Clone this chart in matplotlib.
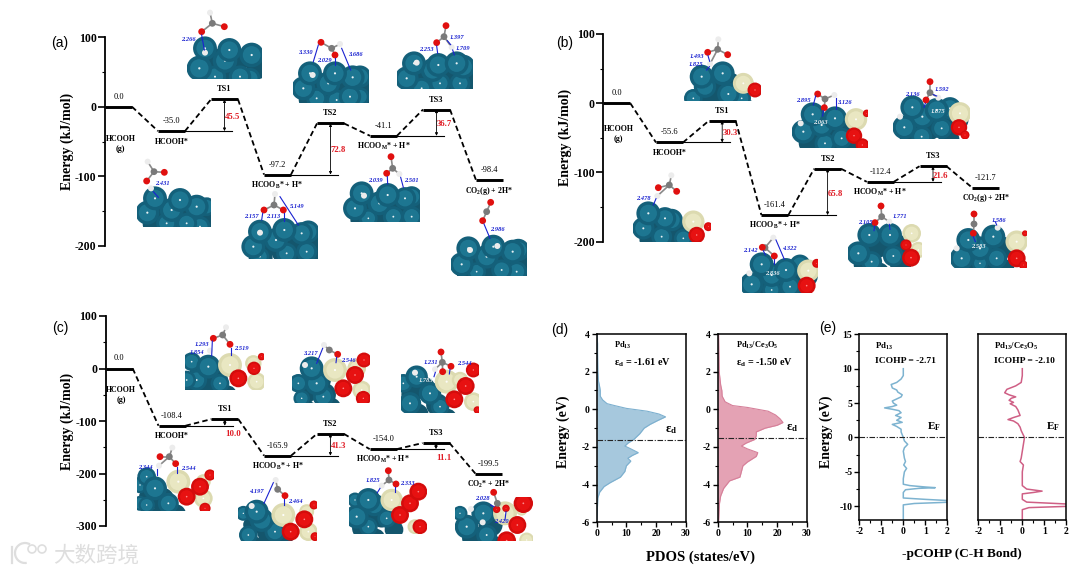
import numpy as np
import matplotlib
matplotlib.use("Agg")
import matplotlib.pyplot as plt
from matplotlib.patches import Circle, Rectangle, Arc

plt.rcParams['font.family'] = ['Liberation Serif', 'DejaVu Sans']
plt.rcParams['mathtext.fontset'] = 'custom'
plt.rcParams['mathtext.rm'] = 'Liberation Serif'
plt.rcParams['mathtext.bf'] = 'Liberation Serif:bold'
plt.rcParams['mathtext.it'] = 'Liberation Serif:italic'
plt.rcParams['axes.unicode_minus'] = False

# energy profiles: drawn level, printed value
levels_a = [0, -35, 10.6, -97.6, -24, -41.8, -4, -105.5]
levels_b = [0, -56.7, -25.5, -161.5, -94.7, -113.5, -91, -122]
levels_c = [0, -109, -96.5, -166, -124.5, -153.6, -142, -200]
values_a = ['0.0', '-35.0', 'TS1', '-97.2', 'TS2', '-41.1', 'TS3', '-98.4']
values_b = ['0.0', '-55.6', 'TS1', '-161.4', 'TS2', '-112.4', 'TS3', '-121.7']
values_c = ['0.0', '-108.4', 'TS1', '-165.9', 'TS2', '-154.0', 'TS3', '-199.5']
barriers_a = ['45.5', '72.8', '36.7']
barriers_b = ['30.3', '65.8', '21.6']
barriers_c = ['10.0', '41.3', '11.1']
barrier_y_a = [-15, -62.5, -25.5]
barrier_y_b = [-43, -130.8, -104.8]
barrier_y_c = [-124.4, -147, -170]
species = [r'HCOOH', r'HCOOH*', '', r'HCOO$_{\mathbf{B}}$* + H*', '',
           r'HCOO$_{\mathbf{M}}$* + H*', '', r'CO$_{\mathbf{2}}$(g) + 2H*']
species_c_last = r'CO$_{\mathbf{2}}$* + 2H*'

# PDOS curves
pdos_e_pd = [4, 3.5, 3, 2, 1.5, 1.2, 1, 0.7, 0.5, 0.3, 0.2, 0.05, -0.1, -0.25, -0.4, -0.6, -0.8, -1, -1.3,
             -1.6, -1.8, -1.95, -2.1, -2.3, -2.45, -2.6, -2.75, -3, -3.3, -3.6, -3.9, -4.1, -4.4, -4.7, -5.4, -6]
pdos_v_pd = [0.1, 0.3, 0.3, 0.4, 0.6, 1, 1.2, 1.2, 2, 3.5, 6, 10, 17, 21, 23.2, 20.5, 18, 16, 14.5,
             12.5, 10.5, 9.5, 11.5, 14, 12, 10.5, 11.5, 10, 9.5, 8, 4.5, 2.5, 1, 0.4, 0.2, 0]
pdos_e_ce = [4, 3, 2, 1.3, 1, 0.7, 0.4, 0.2, 0.1, -0.1, -0.3, -0.5, -0.7, -0.85, -1, -1.2, -1.4, -1.6, -1.8,
             -1.95, -2.1, -2.3, -2.5, -2.8, -3, -3.3, -3.6, -3.8, -4.2, -4.6, -5, -6]
pdos_v_ce = [0.3, 0.4, 0.5, 1, 1.4, 1.5, 2.5, 5, 10, 17, 19.5, 21, 22, 20, 16, 13, 13, 12.5, 9.5,
             8, 10, 13.5, 13, 10, 8.5, 8, 7.5, 4, 2, 1, 0.6, 0.3]

# pCOHP curves
cohp_e_pd = [10, 9, 8.5, 8, 7.7, 7.2, 6.9, 6.6, 6.2, 5.9, 5.6, 5.3, 5, 4.7, 4.5, 4.3, 4.1, 3.9, 3.6, 3.2, 2.9,
             2.5, 2.2, 1.9, 1.6, 1.2, 0.8, 0, -0.5, -1, -1.5, -2, -3, -3.5, -4, -4.5, -5, -6, -6.8, -7, -7.2,
             -7.3, -7.4, -7.6, -8, -8.8, -9, -9.2, -9.4, -9.6, -9.8, -12]
cohp_v_pd = [0, 0, -0.1, -0.3, -0.55, -0.5, -0.3, -0.25, -0.05, -0.1, -0.3, -0.5, -0.45, -0.3, -0.5, -0.85, -0.5,
             -0.2, -0.1, -0.35, -0.1, -0.3, -0.05, -0.5, -0.3, -0.1, -0.1, 0, 0.05, 0.2, 0.05, 0, 0.05, 0.1,
             0.02, 0.15, 0.05, 0, 0, 0.3, 1, 1.45, 0.7, 0.1, 0, 0, 1, 2.2, 2.2, 0.5, 0, 0]
cohp_e_ce = [10, 9, 8, 7.5, 7, 6.5, 6.2, 5.9, 5.7, 5.4, 5.1, 4.9, 4.5, 4, 3.2, 2.9, 2.6, 2.4, 2, 1.5, 1, 0, -1,
             -2, -3, -3.5, -4, -5, -7, -7.5, -7.8, -8, -8.2, -9, -9.4, -9.7, -10, -10.2, -10.5, -12]
cohp_v_ce = [0, 0, -0.05, -0.3, -0.7, -0.8, -0.6, -0.3, -0.5, -0.6, -0.4, -0.55, -0.3, -0.2, -0.1, -0.4, -0.65,
             -0.4, -0.2, -0.1, -0.05, 0.1, 0.05, 0, -0.05, -0.1, 0.05, 0, 0, 0.2, 0.9, 0.5, 0, 0, 0.2, 2.2, 2.2,
             0.3, 0, 0]

# slab snapshots, read in crop pixels of each panel (3x, see offsets in draw_slab)
slabs_a = [
    dict(box=(440, -30, 665, 178), P=[(495, 85, 32), (568, 90, 32), (635, 105, 33), (478, 145, 34), (555, 122, 33), (600, 170, 30), (525, 170, 30), (630, 175, 28)],
         W=[], R=[], mol=[('H', 495, 98), ('O', 485, 35), ('C', 517, 10), ('O', 553, 20), ('H', 510, -22)],
         blue=[(485, 45, 493, 90)], text=[(445, 58, '2.266')]),
    dict(box=(292, 395, 512, 622), P=[(345, 535, 32), (420, 540, 32), (470, 560, 32), (322, 578, 32), (395, 570, 32), (500, 560, 25), (380, 610, 28), (440, 610, 28), (480, 620, 28)],
         W=[], R=[], mol=[('H', 333, 505), ('O', 320, 483), ('C', 342, 455), ('O', 373, 457), ('H', 323, 425)],
         blue=[(340, 515, 355, 532)], text=[(368, 490, '2.431')]),
    dict(box=(758, 20, 988, 250), P=[(810, 160, 32), (885, 160, 32), (938, 172, 32), (960, 170, 30), (790, 205, 32), (865, 190, 32), (930, 230, 30), (830, 235, 28), (890, 240, 28), (960, 230, 25)],
         W=[], R=[], mol=[('H', 818, 165), ('O', 843, 67), ('C', 875, 85), ('H', 900, 72), ('O', 885, 105)],
         blue=[(835, 75, 820, 125), (905, 85, 932, 150), (885, 115, 885, 135)],
         text=[(797, 99, '3.330'), (853, 122, '2.029'), (945, 102, '3.686')]),
    dict(box=(1070, 0, 1300, 208), P=[(1122, 130, 32), (1250, 130, 32), (1270, 140, 32), (1195, 135, 32), (1100, 175, 32), (1178, 150, 32), (1200, 190, 28), (1260, 190, 28), (1145, 205, 28)],
         W=[], R=[], mol=[('H', 1130, 128), ('O', 1218, 17), ('C', 1212, 50), ('O', 1190, 68), ('H', 1235, 82)],
         blue=[(1190, 78, 1193, 100), (1238, 90, 1243, 105), (1222, 62, 1232, 74)],
         text=[(1250, 53, '1.397'), (1160, 88, '2.253'), (1270, 85, '1.709')]),
    dict(box=(603, 490, 835, 718), P=[(660, 635, 32), (733, 630, 32), (785, 640, 30), (805, 635, 30), (640, 680, 32), (708, 660, 32), (740, 700, 28), (800, 695, 28), (660, 710, 25)],
         W=[], R=[], mol=[('H', 660, 638), ('O', 672, 570), ('C', 702, 555), ('H', 705, 522), ('O', 730, 570)],
         blue=[(720, 530, 775, 615), (668, 580, 665, 600), (733, 580, 733, 602)],
         text=[(633, 590, '2.157'), (700, 590, '2.113'), (772, 560, '5.149')]),
    dict(box=(910, 400, 1140, 607), P=[(965, 520, 32), (1043, 525, 32), (1095, 535, 30), (1115, 530, 28), (945, 565, 32), (1018, 550, 32), (1060, 590, 28), (1115, 590, 28), (985, 595, 25)],
         W=[], R=[], mol=[('H', 972, 527), ('O', 1053, 410), ('C', 1058, 445), ('O', 1040, 460), ('H', 1078, 462)],
         blue=[(1042, 470, 1043, 492), (1082, 472, 1090, 502)], text=[(1007, 480, '2.039'), (1115, 480, '2.501')]),
    dict(box=(1232, 540, 1460, 767), P=[(1285, 685, 32), (1360, 680, 32), (1418, 695, 32), (1435, 690, 30), (1265, 733, 32), (1340, 710, 32), (1385, 750, 28), (1430, 755, 28), (1310, 755, 25)],
         W=[], R=[], mol=[('H', 1290, 690), ('H', 1372, 678), ('O', 1352, 547), ('C', 1340, 575), ('O', 1328, 602)],
         blue=[(1332, 612, 1350, 655)], text=[(1372, 628, '2.986')]),
]
slabs_b = [
    dict(box=(402, 30, 633, 243), P=[(455, 170, 32), (518, 160, 32), (465, 200, 30), (535, 222, 30), (430, 235, 25), (575, 235, 25)],
         W=[(580, 190, 28)], R=[(615, 210, 20)], mol=[('H', 505, 58), ('C', 503, 88), ('O', 473, 97), ('O', 533, 104), ('H', 480, 132)],
         blue=[(474, 107, 479, 124), (478, 140, 470, 150)], text=[(440, 110, '1.493'), (437, 135, '1.825')]),
    dict(box=(250, 430, 483, 667), P=[(295, 580, 32), (345, 595, 30), (365, 600, 30), (280, 625, 30), (335, 650, 28), (400, 655, 25)],
         W=[(430, 605, 30)], R=[(440, 645, 22), (475, 620, 12)], mol=[('H', 322, 528), ('O', 325, 503), ('C', 358, 495), ('O', 380, 514), ('H', 364, 466)],
         blue=[(318, 536, 310, 555)], text=[(281, 537, '2.478')]),
    dict(box=(727, 210, 955, 385), P=[(788, 283, 32), (855, 295, 32), (815, 315, 32), (760, 335, 32), (875, 355, 28), (825, 370, 28)],
         W=[(918, 298, 30)], R=[(912, 347, 22), (937, 375, 18), (950, 280, 10)], mol=[('H', 752, 310), ('O', 803, 222), ('C', 825, 237), ('H', 853, 225), ('O', 823, 263)],
         blue=[(797, 228, 790, 255), (858, 235, 858, 268), (820, 272, 818, 288)], text=[(760, 241, '2.895'), (883, 247, '3.126'), (812, 308, '2.063')]),
    dict(box=(1030, 130, 1260, 358), P=[(1087, 262, 32), (1160, 270, 32), (1200, 265, 30), (1117, 290, 32), (1063, 322, 32), (1175, 325, 28), (1115, 350, 28)],
         W=[(1230, 280, 30)], R=[(1227, 322, 22), (1245, 345, 12)], mol=[('H', 1050, 290), ('O', 1140, 185), ('C', 1140, 218), ('O', 1128, 240), ('H', 1165, 233)],
         blue=[(1126, 250, 1122, 262), (1150, 224, 1160, 228)], text=[(1088, 225, '2.136'), (1175, 208, '1.592'), (1163, 275, '1.875')]),
    dict(box=(575, 620, 803, 820), P=[(635, 733, 32), (708, 750, 32), (750, 735, 28), (665, 765, 32), (605, 793, 32), (720, 800, 28), (665, 810, 25)],
         W=[(775, 752, 30)], R=[(770, 797, 24), (800, 730, 12)], mol=[('H', 598, 760), ('H', 670, 653), ('C', 645, 683), ('O', 673, 708), ('O', 637, 682)],
         blue=[(678, 660, 703, 718), (640, 692, 646, 705), (672, 718, 672, 733)], text=[(600, 691, '2.142'), (718, 686, '4.322'), (668, 760, '2.836')]),
    dict(box=(895, 550, 1115, 740), P=[(958, 645, 32), (1020, 645, 32), (925, 700, 32), (1030, 708, 28), (965, 725, 28)],
         W=[(1085, 640, 25), (1105, 690, 22)], R=[(1083, 713, 24), (1068, 675, 15)], mol=[('O', 993, 558), ('C', 995, 590), ('O', 975, 608), ('H', 1018, 605)],
         blue=[(974, 618, 972, 632), (1018, 613, 1020, 628)], text=[(945, 606, '2.105'), (1050, 590, '1.771')]),
    dict(box=(1203, 570, 1432, 745), P=[(1255, 660, 32), (1330, 650, 32), (1290, 685, 32), (1235, 715, 32), (1340, 715, 28), (1290, 730, 22)],
         W=[(1400, 665, 30)], R=[(1400, 715, 24), (1420, 735, 12), (1425, 640, 8)], mol=[('H', 1220, 685), ('O', 1272, 582), ('C', 1272, 612), ('O', 1270, 640), ('H', 1343, 623)],
         blue=[(1270, 650, 1276, 665), (1340, 615, 1336, 605)], text=[(1347, 603, '1.586'), (1285, 680, '2.583')]),
]
slabs_c = [
    dict(box=(436, 70, 672, 270), P=[(505, 200, 32), (455, 185, 25), (440, 240, 25), (470, 240, 28), (540, 250, 25)],
         W=[(570, 195, 32), (640, 190, 22), (650, 245, 25)], R=[(595, 235, 24), (642, 205, 18), (665, 170, 10)], mol=[('H', 558, 82), ('C', 548, 105), ('O', 520, 115), ('O', 570, 133), ('H', 510, 152)],
         blue=[(517, 123, 515, 168), (572, 143, 572, 165)], text=[(487, 132, '1.293'), (472, 157, '1.854'), (605, 147, '2.519')]),
    dict(box=(757, 110, 990, 308), P=[(815, 205, 32), (775, 250, 25), (830, 250, 32), (850, 290, 28), (785, 295, 22)],
         W=[(885, 210, 32), (950, 205, 25), (965, 270, 25)], R=[(910, 265, 24), (945, 225, 24), (972, 180, 20), (970, 295, 20)], mol=[('H', 795, 195), ('H', 852, 135), ('C', 868, 150), ('O', 893, 163)],
         blue=[(848, 145, 830, 190), (890, 172, 888, 188)], text=[(810, 161, '3.217'), (925, 180, '2.546')]),
    dict(box=(1083, 105, 1318, 340), P=[(1130, 230, 30), (1090, 250, 25), (1170, 280, 30), (1110, 310, 30), (1200, 320, 25)],
         W=[(1220, 245, 32), (1260, 240, 22), (1300, 305, 25)], R=[(1277, 258, 24), (1243, 298, 24), (1300, 210, 20), (1312, 330, 10)], mol=[('H', 1125, 218), ('O', 1203, 156), ('C', 1207, 187), ('O', 1233, 199), ('H', 1185, 208), ('O', 1208, 215)],
         blue=[(1230, 208, 1228, 222), (1186, 217, 1182, 230)], text=[(1172, 186, '1.231'), (1272, 190, '2.544'), (1158, 240, '1.785')]),
    dict(box=(290, 430, 523, 632), P=[(345, 565, 32), (320, 530, 25), (300, 555, 22), (385, 610, 28), (320, 615, 22), (300, 610, 20)],
         W=[(415, 545, 32), (490, 545, 20), (490, 595, 25)], R=[(440, 590, 24), (480, 560, 24), (510, 525, 15), (495, 625, 15)], mol=[('H', 397, 443), ('C', 388, 470), ('O', 360, 470), ('O', 407, 491), ('H', 357, 497)],
         blue=[(352, 507, 352, 525), (410, 501, 410, 520)], text=[(315, 503, '2.344'), (445, 505, '2.544')]),
    dict(box=(595, 520, 830, 722), P=[(650, 635, 32), (610, 640, 20), (665, 660, 32), (705, 695, 28), (625, 705, 25)],
         W=[(730, 645, 32), (800, 635, 20), (805, 695, 25)], R=[(752, 695, 24), (793, 658, 24), (822, 615, 12), (825, 710, 12)], mol=[('H', 635, 618), ('H', 707, 540), ('C', 713, 568), ('O', 735, 587)],
         blue=[(700, 548, 672, 610), (733, 597, 733, 614)], text=[(650, 575, '4.197'), (767, 604, '2.464')]),
    dict(box=(927, 500, 1160, 702), P=[(985, 600, 32), (945, 600, 20), (1003, 615, 30), (950, 650, 32), (1040, 655, 25), (985, 680, 25)],
         W=[(1055, 600, 30), (1125, 680, 20)], R=[(1080, 645, 24), (1110, 610, 24), (1135, 575, 24), (1140, 680, 20)], mol=[('O', 1045, 512), ('C', 1047, 540), ('O', 1068, 552), ('H', 1025, 557)],
         blue=[(1020, 565, 1012, 578), (1066, 562, 1066, 575)], text=[(1000, 542, '1.825'), (1103, 550, '2.333')]),
    dict(box=(1245, 590, 1480, 722), P=[(1330, 640, 32), (1260, 640, 20), (1280, 680, 32), (1340, 705, 28)],
         W=[(1395, 640, 32), (1445, 630, 15), (1460, 720, 20)], R=[(1432, 675, 24), (1450, 610, 26), (1400, 722, 25), (1370, 628, 10), (1398, 625, 10)], mol=[('H', 1293, 627), ('H', 1328, 667), ('O', 1361, 577), ('C', 1372, 610)],
         blue=[(1352, 615, 1362, 620), (1398, 635, 1395, 660)], text=[(1328, 594, '2.028'), (1383, 665, '2.420')]),
]
white_labels = ['2.063', '1.875', '2.836', '2.583', '1.785']

fig = plt.figure(figsize=(10.8, 5.76), dpi=100)
overlay = fig.add_axes([0, 0, 1, 1], zorder=0)
overlay.set_xlim(0, 1080)
overlay.set_ylim(576, 0)
overlay.axis('off')

MOL_COLORS = {'O': ('#e0100f', 3.4), 'C': ('#7a7a7a', 3.4), 'H': ('#ececec', 3.0)}
GROW = 1.12


def disc(x, y, r, color, clip, alpha=1.0, z=2):
    c = Circle((x, y), r, fc=color, ec='none', alpha=alpha, zorder=z)
    overlay.add_patch(c)
    c.set_clip_path(clip)


def ball(x, y, r, rim, core, spot, clip):
    disc(x, y, r, rim, clip)
    disc(x, y, r * 0.72, core, clip, alpha=0.7)
    disc(x, y, r * 0.09, spot, clip, alpha=0.9)


def draw_slab(slab, ox, oy):
    x0, y0, x1, y1 = slab['box']
    clip = Rectangle((ox + x0 / 3, oy + y0 / 3), (x1 - x0) / 3, (y1 - y0) / 3, transform=overlay.transData)
    # darker back layer so no gaps show between the top atoms
    for x, y, r in slab['P']:
        disc(ox + (x + 22) / 3, oy + (y + 34) / 3, r * GROW / 3, '#14566d', clip)
    for x, y, r in reversed(slab['P']):
        ball(ox + x / 3, oy + y / 3, r * GROW / 3, '#14607a', '#22809c', 'white', clip)
    for x, y, r in slab['W']:
        ball(ox + x / 3, oy + y / 3, r * GROW / 3, '#dcdab0', '#efedcb', 'white', clip)
    for x, y, r in slab['R']:
        ball(ox + x / 3, oy + y / 3, r * GROW / 3, '#d40c0c', '#f01414', '#ff9a9a', clip)
    atoms = slab['mol']
    carbon = [a for a in atoms if a[0] == 'C']
    for a in atoms:
        for c in carbon:
            if a[0] != 'C' and np.hypot(a[1] - c[1], a[2] - c[2]) < 50:
                overlay.plot([ox + a[1] / 3, ox + c[1] / 3], [oy + a[2] / 3, oy + c[2] / 3],
                             color='#8a8a8a', lw=1.2, zorder=3)
    for kind, x, y in atoms:
        color, r = MOL_COLORS[kind]
        overlay.add_patch(Circle((ox + x / 3, oy + y / 3), r, fc=color, ec='none', zorder=4))
    for xa, ya, xb, yb in slab['blue']:
        overlay.plot([ox + xa / 3, ox + xb / 3], [oy + ya / 3, oy + yb / 3], color='#1a22d0', lw=0.8, zorder=5)
    for x, y, s in slab['text']:
        color = '#e8eef2' if s in white_labels else '#1a22d0'
        overlay.text(ox + x / 3, oy + y / 3, s, color=color, fontsize=4.6, style='italic', weight='bold',
                     ha='center', va='center', zorder=6)


def px_axes(left, top, right, bottom):
    ax = fig.add_axes([left / 1080, 1 - bottom / 576, (right - left) / 1080, (bottom - top) / 576], zorder=2)
    ax.patch.set_alpha(0)
    return ax


def draw_profile(left, top, bottom, ymin, step, levels, values, barriers, barrier_y, gas_off, names, tag, tag_xy, ymajor):
    x_end = left + 13.5 + step * 7.4
    ax = px_axes(left, top, x_end, bottom)
    ax.set_xlim(-13.5 / step, 7.4)
    ax.set_ylim(ymin, 100)
    half = 13.5 / step
    for sp in ['top', 'right', 'bottom']:
        ax.spines[sp].set_visible(False)
    ax.spines['left'].set_linewidth(1.3)
    ax.set_xticks([])
    ax.set_yticks(ymajor)
    ax.set_yticks(np.arange(ymin, 100, 50), minor=True)
    ax.tick_params(axis='y', which='major', length=5, width=1.2, pad=1, labelsize=8.5)
    ax.tick_params(axis='y', which='minor', length=2.5, width=0.8)
    for lab in ax.get_yticklabels():
        lab.set_fontweight('bold')
    ax.set_ylabel('Energy (kJ/mol)', fontsize=10, fontweight='bold', labelpad=1)

    for i, lv in enumerate(levels):
        ax.plot([i - half, i + half], [lv, lv], color='black', lw=2.1, solid_capstyle='butt', clip_on=False, zorder=4)
        bold = values[i].startswith('TS')
        ax.annotate(values[i], (i, lv), xytext=(0, 10), textcoords='offset pixels', ha='center', va='center',
                    fontsize=6, fontweight='bold' if bold else 'normal', annotation_clip=False)
        if i < len(levels) - 1:
            ax.plot([i + half, i + 1 - half], [lv, levels[i + 1]], color='black', lw=1.3,
                    linestyle=(0, (3, 1.8)), clip_on=False)
        if i == 0:
            ax.annotate('HCOOH', (i, lv), xytext=(2, -gas_off), textcoords='offset pixels', ha='center', va='center',
                        fontsize=5.7, fontweight='bold')
            ax.annotate('(g)', (i, lv), xytext=(2, -gas_off - 10), textcoords='offset pixels', ha='center', va='center',
                        fontsize=5.7, fontweight='bold')
        elif names[i]:
            ax.annotate(names[i], (i, lv), xytext=(0, -10.5), textcoords='offset pixels', ha='center', va='center',
                        fontsize=5.7, fontweight='bold', annotation_clip=False)

    for k, ts in enumerate([2, 4, 6]):
        base = levels[ts - 1]
        ax.plot([ts - 1 + half, ts + 0.15], [base, base], color='black', lw=0.8)
        ax.annotate('', xy=(ts, levels[ts]), xytext=(ts, base),
                    arrowprops=dict(arrowstyle='<|-|>', color='black', lw=0.6, shrinkA=0, shrinkB=0, mutation_scale=4))
        ax.text(ts + 0.15, barrier_y[k], barriers[k], color='#e01b24', fontsize=6.3, fontweight='bold',
                ha='center', va='center')
    overlay.text(tag_xy[0], tag_xy[1], tag, family='Liberation Sans', fontsize=10, ha='center', va='center')
    return ax


for s in slabs_a:
    draw_slab(s, 40, 20)
for s in slabs_b:
    draw_slab(s, 550, 20)
for s in slabs_c:
    draw_slab(s, 40, 300)

draw_profile(105, 37.3, 245.7, -200, 53.0, levels_a, values_a, barriers_a, barrier_y_a, 32, species, '(a)', (60, 43), [-200, -100, 0, 100])
draw_profile(603.3, 34, 241.7, -200, 52.7, levels_b, values_b, barriers_b, barrier_y_b, 26, species, '(b)', (565, 43), [-200, -100, 0, 100])
names_c = species[:-1] + [species_c_last]
draw_profile(105.7, 316, 526, -300, 52.8, levels_c, values_c, barriers_c, barrier_y_c, 21, names_c, '(c)', (60, 328), [-300, -200, -100, 0, 100])


def style_box(ax, xticks, xminor, yticks, yminor, show_y=True):
    ax.set_xticks(xticks)
    ax.set_xticks(xminor, minor=True)
    ax.set_yticks(yticks)
    ax.set_yticks(yminor, minor=True)
    for sp in ax.spines.values():
        sp.set_linewidth(1.1)
    ax.tick_params(which='major', length=3.5, width=1, labelsize=7, pad=1.5)
    ax.tick_params(which='minor', length=2, width=0.8)
    if not show_y:
        ax.tick_params(axis='y', which='both', length=0, labelleft=False)
    for lab in ax.get_xticklabels() + ax.get_yticklabels():
        lab.set_fontweight('bold')


# PDOS panels
d_panels = [(596.7, 685.7, pdos_e_pd, pdos_v_pd, '#a6c8dd', '#7db0cf', -1.61, 'Pd$_{\\mathbf{13}}$', 'ε$_{\\mathbf{d}}$ = -1.61 eV'),
            (717.7, 806.7, pdos_e_ce, pdos_v_ce, '#e4a2b4', '#d6809a', -1.50, 'Pd$_{\\mathbf{13}}$/Ce$_{\\mathbf{3}}$O$_{\\mathbf{5}}$', 'ε$_{\\mathbf{d}}$ = -1.50 eV')]
for left, right, e, v, fill, edge, eps, title, note in d_panels:
    ax = px_axes(left, 334, right, 522.3)
    ax.fill_betweenx(e, 0, v, color=fill, lw=0)
    ax.plot(v, e, color=edge, lw=0.8)
    ax.axhline(eps, color='#222222', lw=0.8, linestyle=(0, (5, 1.5, 1, 1.5)))
    ax.set_xlim(0, 30)
    ax.set_ylim(-6, 4)
    style_box(ax, [0, 10, 20, 30], [5, 15, 25], [-6, -4, -2, 0, 2, 4], [-5, -3, -1, 1, 3])
    ax.text(6, 3.4, title, fontsize=6, fontweight='bold', ha='left', va='center')
    ax.text(6, 2.47, note, fontsize=7.3, fontweight='bold', ha='left', va='center')
    ax.text(25, eps + 0.52, 'ε$_{\\mathbf{d}}$', fontsize=9, fontweight='bold', ha='center', va='center')

# pCOHP panels
e_panels = [(859.3, 947.3, cohp_e_pd, cohp_v_pd, '#7db3d0', 'Pd$_{\\mathbf{13}}$', 'ICOHP = -2.71', True),
            (978.3, 1066.3, cohp_e_ce, cohp_v_ce, '#cf5f85', 'Pd$_{\\mathbf{13}}$/Ce$_{\\mathbf{3}}$O$_{\\mathbf{5}}$', 'ICOHP = -2.10', False)]
for left, right, e, v, color, title, note, show_y in e_panels:
    ax = px_axes(left, 334.3, right, 520)
    ax.plot(v, e, color=color, lw=1.1)
    ax.axhline(0, color='#222222', lw=0.8, linestyle=(0, (5, 1.5, 1, 1.5)))
    ax.set_xlim(-2, 2)
    ax.set_ylim(-12, 15)
    style_box(ax, [-2, -1, 0, 1, 2], [-1.5, -0.5, 0.5, 1.5], [-10, -5, 0, 5, 10, 15], [-7.5, -2.5, 2.5, 7.5, 12.5], show_y)
    ax.text(-1.28, 13.3, title, fontsize=6.3, fontweight='bold', ha='left', va='center')
    ax.text(-1.28, 11.1, note, fontsize=6.8, fontweight='bold', ha='left', va='center')
    ax.text(1.4, 1.5, 'E$_{\\mathbf{F}}$', fontsize=8, fontweight='bold', ha='center', va='center')

overlay.text(563, 432, 'Energy (eV)', rotation=90, fontsize=10, fontweight='bold', ha='center', va='center')
overlay.text(826, 432, 'Energy (eV)', rotation=90, fontsize=10, fontweight='bold', ha='center', va='center')
overlay.text(701, 557, 'PDOS (states/eV)', fontsize=10.5, fontweight='bold', ha='center', va='center')
overlay.text(962, 554, '-pCOHP (C-H Bond)', fontsize=9.5, fontweight='bold', ha='center', va='center')
overlay.text(560, 330, '(d)', family='Liberation Sans', fontsize=10, ha='center', va='center')
overlay.text(828, 328, '(e)', family='Liberation Sans', fontsize=10, ha='center', va='center')

# watermark
WM = '#dedede'
overlay.text(96, 556, '大数跨境', family=['Noto Sans CJK SC', 'DejaVu Sans'], fontsize=15.5, fontweight='medium',
             color=WM, ha='center', va='center')
overlay.plot([12, 12], [547, 563], color=WM, lw=1.6)
overlay.add_patch(Arc((25, 553), 20, 20, angle=0, theta1=80, theta2=300, color=WM, lw=1.6))
overlay.add_patch(Circle((32, 549), 4, fc='none', ec=WM, lw=1.2))
overlay.add_patch(Circle((42, 549), 4, fc='none', ec=WM, lw=1.2))

fig.savefig('out.png', dpi=100)
